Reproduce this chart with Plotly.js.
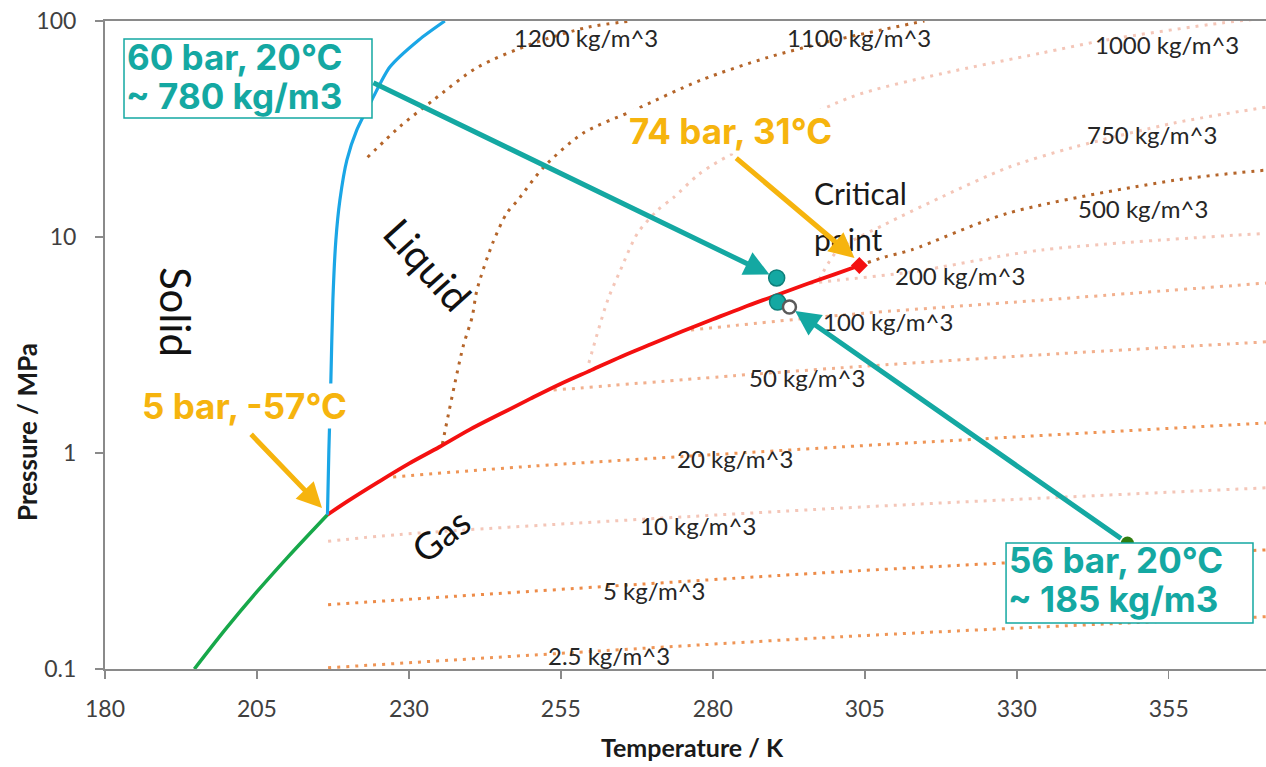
<!DOCTYPE html>
<html><head><meta charset="utf-8">
<script src="https://cdn.plot.ly/plotly-3.0.1.min.js"></script>
<style>html,body{margin:0;padding:0;background:#fff}#chart{width:1266px;height:767px}</style>
</head><body><div id="chart"></div>
<script>
// ---------- data (T in K, P in MPa) ----------
const sublimT = [194.7, 200, 205, 210, 216.6];
const sublimP = [0.1, 0.155, 0.228, 0.328, 0.518];

const vapT = [216.6, 220, 225, 230, 235, 240, 245, 250, 255, 260, 265, 270, 275, 280, 285, 290, 295, 300, 304.1];
const vapP = [0.518, 0.600, 0.735, 0.893, 1.066, 1.283, 1.515, 1.785, 2.092, 2.419, 2.799, 3.203, 3.661, 4.161, 4.721, 5.318, 5.992, 6.713, 7.38];

const meltT = [216.6, 216.83, 217.16, 217.49, 217.98, 218.64, 219.79, 221.43, 223.9, 226.86, 231.63, 235.9];
const meltP = [0.518, 1.03, 2.18, 5.11, 9.68, 14.8, 22.7, 31.3, 43.1, 61.2, 81.7, 100];

const iso1200T = [223.2, 228.6, 234.0, 241.3, 250.5, 259.4, 266.5];
const iso1200P = [23.4, 32.6, 43, 61.1, 78.9, 93.5, 100];
const iso1100T = [235.5, 238.9, 240.4, 241.2, 243.8, 246.1, 247.9, 252.2, 258.7, 267.0, 278.0, 289.1, 299.9, 314.8];
const iso1100P = [1.1, 3.1, 4.26, 5.7, 9.4, 12.9, 14.8, 21.1, 30.3, 38.6, 53.2, 67.9, 81.4, 100];
const iso1000T = [259.6, 262.7, 264.8, 267.6, 270.9, 273.6, 277.5, 281.3, 302.7, 317.6, 334.0, 344.7, 363.8, 371.0];
const iso1000P = [2.61, 5.1, 7.03, 10.4, 13.3, 15.3, 19.3, 22.7, 44.4, 57, 71, 81.7, 98, 103];
const iso750T = [297.5, 300.6, 308.2, 317.6, 328.6, 339.5, 355.9, 371.0];
const iso750P = [6.35, 8.7, 11.4, 15.3, 21.0, 26.1, 33.7, 39.9];
const iso500T = [304.1, 308.2, 312.6, 328.6, 355.9, 371.0];
const iso500P = [7.38, 8.07, 8.7, 12.9, 18.3, 20.4];
const iso200T = [296.0, 300.8, 312.6, 334.0, 371.0];
const iso200P = [6.1, 6.32, 6.88, 8.7, 10.4];
const iso100T = [276.4, 301.1, 334.0, 371.0];
const iso100P = [3.71, 4.35, 5.1, 6.12];
const iso50T = [253.8, 283.5, 301.1, 334.0, 371.0];
const iso50P = [1.955, 2.28, 2.48, 2.85, 3.27];
const iso20T = [227.4, 250.5, 301.1, 371.0];
const iso20P = [0.775, 0.87, 1.067, 1.377];
const iso10T = [216.7, 228.6, 301.1, 371.0];
const iso10P = [0.39, 0.42, 0.556, 0.69];
const iso5T = [216.7, 301.1, 371.0];
const iso5P = [0.1985, 0.282, 0.356];
const iso25T = [216.7, 301.1, 371.0];
const iso25P = [0.1013, 0.141, 0.1746];

const isoLabels = ['1200 kg/m^3', '1100 kg/m^3', '1000 kg/m^3', '750 kg/m^3', '500 kg/m^3', '200 kg/m^3',
                   '100 kg/m^3', '50 kg/m^3', '20 kg/m^3', '10 kg/m^3', '5 kg/m^3', '2.5 kg/m^3'];

const criticalT = [304.1], criticalP = [7.38];
const liqPointT = [290.5], liqPointP = [6.46];
const satPointT = [290.65], satPointP = [5.0];
const openPointT = [292.6], openPointP = [4.74];
const gasPointT = [348.2], gasPointP = [0.383];

const xTickVals = [180, 205, 230, 255, 280, 305, 330, 355];
const yTickVals = [0.1, 1, 10, 100];
const yTickText = ['0.1', '1', '10', '100'];

// ---------- styles ----------
const DARK = '#b5652a', PINK = '#f4c6b8', SALMON = '#f2b08e', ORANGE = '#ef9556', ORANGE2 = '#ed8b48';
const TEAL = '#14a8a2', AMBER = '#f6b40e';
const LBL = {family: 'Lato, sans-serif', size: 24, color: '#262626'};

const isoSeries = [
  [iso1200T, iso1200P, DARK], [iso1100T, iso1100P, DARK], [iso1000T, iso1000P, PINK],
  [iso750T, iso750P, PINK], [iso500T, iso500P, DARK], [iso200T, iso200P, PINK],
  [iso100T, iso100P, SALMON], [iso50T, iso50P, SALMON], [iso20T, iso20P, ORANGE],
  [iso10T, iso10P, PINK], [iso5T, iso5P, ORANGE2], [iso25T, iso25P, ORANGE]
];

const traces = isoSeries.map(s => ({
  x: s[0], y: s[1], mode: 'lines',
  line: {color: s[2], width: 3, dash: '3px,6px', shape: 'spline', smoothing: 0.8}
}));

traces.push({x: sublimT, y: sublimP, mode: 'lines', line: {color: '#17a84a', width: 3.5, shape: 'spline'}});
traces.push({x: vapT, y: vapP, mode: 'lines', line: {color: '#f41010', width: 3.8, shape: 'spline'}});
traces.push({x: meltT, y: meltP, mode: 'lines', line: {color: '#1aa6e6', width: 3.2, shape: 'spline', smoothing: 0.7}});
traces.push({x: criticalT, y: criticalP, mode: 'markers', marker: {symbol: 'diamond', size: 13, color: '#f41010'}});
traces.push({x: liqPointT, y: liqPointP, mode: 'markers', marker: {size: 16, color: TEAL, line: {color: '#0e7f7a', width: 1.5}}});
traces.push({x: satPointT, y: satPointP, mode: 'markers', marker: {size: 16, color: TEAL, line: {color: '#0e7f7a', width: 1.5}}});
traces.push({x: openPointT, y: openPointP, mode: 'markers', marker: {size: 13, color: '#ffffff', line: {color: '#5a5a5a', width: 2.5}}});
traces.push({x: gasPointT, y: gasPointP, mode: 'markers', marker: {size: 13, color: '#2f7d10'}});
traces.forEach(t => { t.type = 'scatter'; t.showlegend = false; t.hoverinfo = 'skip'; });

// ---------- annotations ----------
const L = Math.log10;
const ann = [];
const labelPos = [[0.4143, 0.9753], [0.6494, 0.9753], [0.9147, 0.9645], [0.9018, 0.8256], [0.8941, 0.7106], [0.7364, 0.6065],
                  [0.6744, 0.5370], [0.6047, 0.4506], [0.5426, 0.3256], [0.5108, 0.2222], [0.4729, 0.1219], [0.4341, 0.0201]];
isoLabels.forEach((t, i) => ann.push({text: t, xref: 'paper', yref: 'paper', x: labelPos[i][0], y: labelPos[i][1],
  xanchor: 'center', yanchor: 'middle', showarrow: false, font: LBL}));

const C = {xref: 'paper', yref: 'paper', xanchor: 'center', yanchor: 'middle', showarrow: false};
ann.push(Object.assign({text: 'Solid', x: 0.0612, y: 0.5509, textangle: 90, font: {family: 'Lato, sans-serif', size: 42, color: '#111'}}, C));
ann.push(Object.assign({text: 'Liquid', x: 0.2782, y: 0.6235, textangle: 48, font: {family: 'Lato, sans-serif', size: 40, color: '#111'}}, C));
ann.push(Object.assign({text: 'Gas', x: 0.2894, y: 0.2068, textangle: -38, font: {family: 'Lato, sans-serif', size: 37, color: '#111'}}, C));
ann.push({text: 'Critical', xref: 'paper', yref: 'paper', x: 0.6090, y: 0.7353, xanchor: 'left', yanchor: 'middle', showarrow: false, font: {family: 'Lato, sans-serif', size: 30, color: '#1a1a1a'}});
ann.push({text: 'point', xref: 'paper', yref: 'paper', x: 0.6090, y: 0.6636, xanchor: 'left', yanchor: 'middle', showarrow: false, font: {family: 'Lato, sans-serif', size: 30, color: '#1a1a1a'}});

const bigTeal = {family: 'Inter, sans-serif', size: 35, color: TEAL, weight: 700};
const bigAmber = {family: 'Inter, sans-serif', size: 35, color: AMBER, weight: 700};

// arrows (data coords; y in log10 for log axis)
ann.push({x: liqPointT[0], y: L(liqPointP[0]), ax: 223.9, ay: L(52.2), axref: 'x', ayref: 'y', xref: 'x', yref: 'y', text: '',
  showarrow: true, arrowhead: 2, arrowsize: 1, arrowwidth: 5, arrowcolor: TEAL, standoff: 8});
ann.push({x: openPointT[0], y: L(openPointP[0]), ax: gasPointT[0], ay: L(gasPointP[0]), axref: 'x', ayref: 'y', xref: 'x', yref: 'y', text: '',
  showarrow: true, arrowhead: 2, arrowsize: 1, arrowwidth: 5, arrowcolor: TEAL, standoff: 7, startstandoff: 6});
ann.push({x: 303.3, y: L(8.0), ax: 283.6, ay: L(23.5), axref: 'x', ayref: 'y', xref: 'x', yref: 'y', text: '',
  showarrow: true, arrowhead: 2, arrowsize: 1, arrowwidth: 5, arrowcolor: AMBER, standoff: 0});
ann.push({x: 215.7, y: L(0.556), ax: 203.8, ay: L(1.24), axref: 'x', ayref: 'y', xref: 'x', yref: 'y', text: '',
  showarrow: true, arrowhead: 2, arrowsize: 1, arrowwidth: 5, arrowcolor: AMBER, standoff: 0});

ann.push({text: '60 bar, 20°C', xref: 'paper', yref: 'paper', x: 0.01723, y: 0.9452, xanchor: 'left', yanchor: 'middle', showarrow: false, font: bigTeal});
ann.push({text: '~ 780 kg/m3', xref: 'paper', yref: 'paper', x: 0.01637, y: 0.8850, xanchor: 'left', yanchor: 'middle', showarrow: false, font: bigTeal});
ann.push({text: '56 bar, 20°C', xref: 'paper', yref: 'paper', x: 0.7769, y: 0.1682, xanchor: 'left', yanchor: 'middle', showarrow: false, font: bigTeal});
ann.push({text: '~ 185 kg/m3', xref: 'paper', yref: 'paper', x: 0.7761, y: 0.1073, xanchor: 'left', yanchor: 'middle', showarrow: false, font: bigTeal});
ann.push({text: '74 bar, 31°C', xref: 'paper', yref: 'paper', x: 0.4496, y: 0.8310, xanchor: 'left', yanchor: 'middle', showarrow: false, font: bigAmber, bgcolor: 'rgba(255,255,255,1)'});
ann.push({text: '5 bar, -57°C', xref: 'paper', yref: 'paper', x: 0.03015, y: 0.4051, xanchor: 'left', yanchor: 'middle', showarrow: false, font: bigAmber, bgcolor: 'rgba(255,255,255,1)'});

ann.push({text: 'Temperature / K', xref: 'paper', yref: 'paper', x: 0.5056, y: -0.1204, xanchor: 'center', yanchor: 'middle', showarrow: false,
  font: {family: 'Lato, sans-serif', size: 25, color: '#1a1a1a', weight: 700}});
ann.push({text: 'Pressure / MPa', xref: 'paper', yref: 'paper', x: -0.0672, y: 0.3657, xanchor: 'center', yanchor: 'middle', textangle: -90, showarrow: false,
  font: {family: 'Lato, sans-serif', size: 26, color: '#1a1a1a', weight: 700}});

const shapes = [
  {type: 'rect', xref: 'paper', yref: 'paper', x0: 0.01637, x1: 0.22997, y0: 0.8503, y1: 0.9722, fillcolor: '#ffffff', line: {color: TEAL, width: 1.5}, layer: 'above'},
  {type: 'rect', xref: 'paper', yref: 'paper', x0: 0.7761, x1: 0.9888, y0: 0.0710, y1: 0.1944, fillcolor: '#ffffff', line: {color: TEAL, width: 1.5}, layer: 'above'}
];

const axisCommon = {showgrid: false, zeroline: false, showline: true, linecolor: '#8a8a8a', linewidth: 2,
  ticks: 'outside', ticklen: 8, tickwidth: 1.5, tickcolor: '#8a8a8a',
  tickfont: {family: 'Lato, sans-serif', size: 23, color: '#404040'}};

const layout = {
  width: 1266, height: 767,
  margin: {l: 105, r: 0, t: 21, b: 98},
  paper_bgcolor: '#ffffff', plot_bgcolor: '#ffffff', showlegend: false,
  xaxis: Object.assign({}, axisCommon, {range: [180, 371], tickvals: xTickVals, mirror: true, ticklabelstandoff: 10}),
  yaxis: Object.assign({}, axisCommon, {type: 'log', range: [-1, 2], tickvals: yTickVals, ticktext: yTickText, ticklabelstandoff: 14}),
  annotations: ann, shapes: shapes
};

Plotly.newPlot('chart', traces, layout, {staticPlot: true, displayModeBar: false});
</script></body></html>
